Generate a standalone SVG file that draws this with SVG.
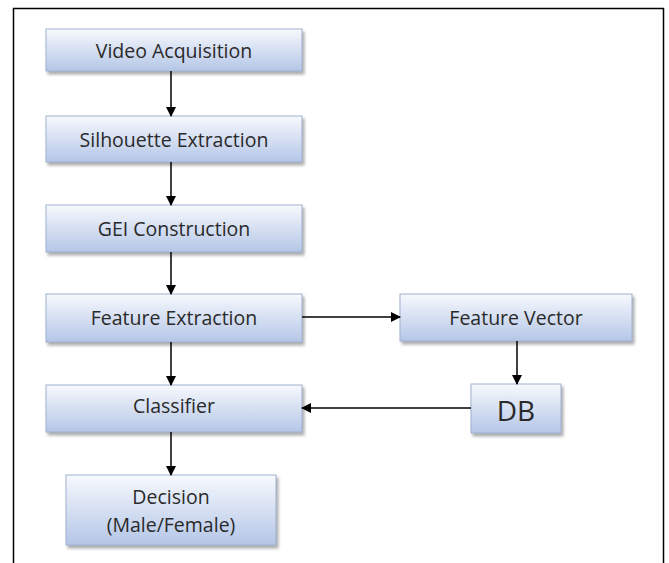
<svg xmlns="http://www.w3.org/2000/svg" width="669" height="563" viewBox="0 0 669 563">
<defs>
<linearGradient id="g" x1="0" y1="0" x2="0" y2="1">
<stop offset="0" stop-color="#f7f9fd"/>
<stop offset="1" stop-color="#b4c6e7"/>
</linearGradient>
<marker id="ah" markerWidth="10" markerHeight="10" refX="9" refY="5" orient="auto" markerUnits="userSpaceOnUse">
<path d="M0,0 L10,5 L0,10 z" fill="#000"/>
</marker>
<filter id="sh" x="-10%" y="-10%" width="130%" height="140%">
<feDropShadow dx="2" dy="3" stdDeviation="1.5" flood-color="#777" flood-opacity="0.6"/>
</filter>
</defs>
<style>
.box{fill:url(#g);stroke:#9fb1cf;stroke-width:1;filter:url(#sh)}
.t{font-family:"Open Sans","Liberation Sans",sans-serif;font-size:19.5px;fill:#2a2a2a;text-anchor:middle;dominant-baseline:central}
.db{font-size:28px}
.c{stroke:#000;stroke-width:1.5;fill:none;marker-end:url(#ah)}
</style>
<rect x="0" y="0" width="669" height="563" fill="#fff"/>
<path d="M13.5,563 V8.5 H663.5 V563" fill="none" stroke="#000" stroke-width="1.5"/>
<g id="video"><rect class="box" x="46" y="29" width="256" height="42"/><text class="t" x="174" y="50">Video Acquisition</text></g>
<g id="silhouette"><rect class="box" x="46" y="116" width="256" height="46"/><text class="t" x="174" y="139">Silhouette Extraction</text></g>
<g id="gei"><rect class="box" x="46" y="205" width="256" height="47"/><text class="t" x="174" y="228">GEI Construction</text></g>
<g id="feature"><rect class="box" x="46" y="294" width="256" height="48"/><text class="t" x="174" y="317">Feature Extraction</text></g>
<g id="classifier"><rect class="box" x="46" y="385" width="256" height="47"/><text class="t" x="174" y="405">Classifier</text></g>
<g id="decision"><rect class="box" x="66" y="475" width="210" height="70"/><text class="t" x="171" y="496">Decision</text><text class="t" x="171" y="524">(Male/Female)</text></g>
<g id="vector"><rect class="box" x="400" y="294" width="232" height="47"/><text class="t" x="516" y="317">Feature Vector</text></g>
<g id="db"><rect class="box" x="471" y="384" width="90" height="49"/><text class="t db" x="516" y="410">DB</text></g>
<g id="connectors">
<line class="c" x1="171" y1="71" x2="171" y2="116"/>
<line class="c" x1="171" y1="162" x2="171" y2="205"/>
<line class="c" x1="171" y1="252" x2="171" y2="294"/>
<line class="c" x1="171" y1="342" x2="171" y2="385"/>
<line class="c" x1="171" y1="432" x2="171" y2="475"/>
<line class="c" x1="302" y1="317" x2="400" y2="317"/>
<line class="c" x1="517" y1="341" x2="517" y2="384"/>
<line class="c" x1="471" y1="408" x2="302" y2="408"/>
</g>
</svg>
